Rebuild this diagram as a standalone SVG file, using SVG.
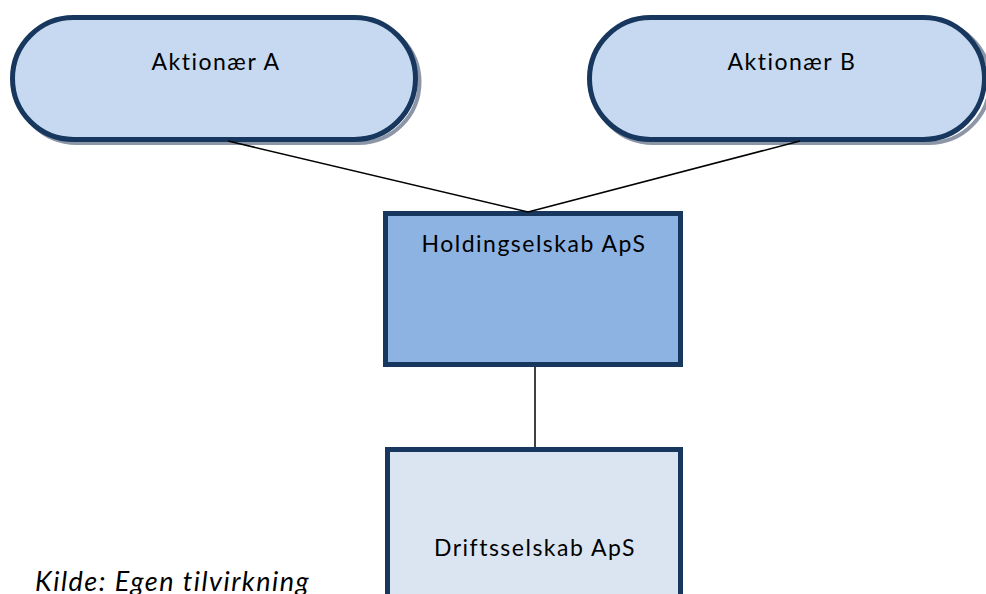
<svg xmlns="http://www.w3.org/2000/svg" width="986" height="594" viewBox="0 0 986 594">
  <style>
    .pill { fill: #c6d9f0; stroke: #17375e; stroke-width: 5; }
    .shadow { fill: none; stroke: #8c96a6; stroke-width: 4; }
    .box { stroke: #17375e; stroke-width: 5; }
    .lbl { font-family: "Lato", "Liberation Sans", sans-serif; font-size: 23px; fill: #000; text-anchor: middle; letter-spacing: 1.5px; }
    .link { stroke: #000; stroke-width: 1.5; fill: none; }
    .note { font-family: "Lato", "Liberation Sans", sans-serif; font-size: 27px; font-style: italic; fill: #000; letter-spacing: 1.5px; }
  </style>

  <g id="aktionaer-a">
    <rect class="shadow" x="15.5" y="21" width="404" height="122" rx="61"/>
    <rect class="pill" x="12.5" y="17.5" width="403" height="122" rx="61"/>
    <text class="lbl" x="216" y="70">Aktionær A</text>
  </g>

  <g id="aktionaer-b">
    <rect class="shadow" x="592" y="21" width="398" height="122" rx="61"/>
    <rect class="pill" x="589.5" y="17.5" width="395" height="122" rx="61"/>
    <text class="lbl" x="792" y="70">Aktionær B</text>
  </g>

  <g id="holdingselskab">
    <rect class="box" x="385.5" y="213.5" width="295" height="151" fill="#8db3e2"/>
    <text class="lbl" x="534" y="252">Holdingselskab ApS</text>
  </g>

  <g id="driftsselskab">
    <rect class="box" x="387.5" y="449.5" width="293" height="160" fill="#dbe5f1"/>
    <text class="lbl" x="535" y="556">Driftsselskab ApS</text>
  </g>

  <g id="connectors">
    <line class="link" x1="228" y1="141" x2="528" y2="212"/>
    <line class="link" x1="800" y1="141" x2="528" y2="212"/>
    <line class="link" x1="535" y1="367" x2="535" y2="447"/>
  </g>

  <text class="note" x="35" y="591">Kilde: Egen tilvirkning</text>
</svg>
